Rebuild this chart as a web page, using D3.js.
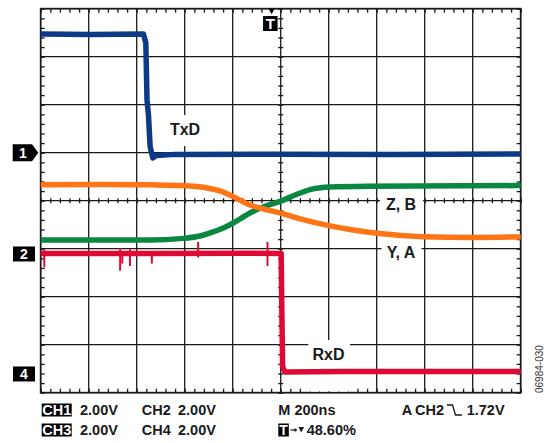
<!DOCTYPE html>
<html lang="en">

<head>
	<meta charset="UTF-8">
	<title>d3</title>
	<style type="text/css">
		body { margin: 0; background: #fff; }
		text { font-family: "Liberation Sans", Arial, sans-serif; }
	</style>
</head>

<body>
	<div id="chart"></div>

	<script src="https://d3js.org/d3.v7.min.js"></script>
	<script>
		// traces: [time in ns from trigger, volts]
		var txd = [
			[-962, 4.95], [-750, 4.93], [-534, 4.95], [-524, 4.57], [-519, 2.2],
			[-513, 1.57], [-506, 0.25], [-495, -0.22], [-481, -0.12], [-400, -0.07],
			[0, -0.06], [500, -0.07], [1038, -0.05]
		];
		var ya = [
			[-962, 2.88], [-715, 2.9], [-506, 2.88], [-369, 2.85], [-269, 2.75],
			[-215, 2.63], [-160, 2.39], [-90, 2.04], [-35, 1.88], [35, 1.71],
			[119, 1.46], [244, 1.17], [327, 1.02], [440, 0.86], [631, 0.72],
			[840, 0.69], [1038, 0.71]
		];
		var zb = [
			[-962, 0.58], [-506, 0.58], [-369, 0.65], [-298, 0.75], [-256, 0.88],
			[-206, 1.06], [-160, 1.29], [-90, 1.71], [-35, 1.96], [35, 2.19],
			[119, 2.54], [173, 2.71], [244, 2.79], [410, 2.82], [1038, 2.85]
		];
		var rxd = [
			[-962, 5.02], [-500, 5.02], [-100, 5.03], [40, 5.02],
			[43, 2.5], [46, 0.3], [56, 0.08], [300, 0.1], [1038, 0.1]
		];
		// glitches on RxD: [time, min volts, max volts]
		var rxdGlitches = [
			[-947, 4.45, 5.2], [-631, 4.3, 5.25], [-622, 4.6, 5.1], [-590, 4.5, 5.2],
			[-499, 4.6, 5.1], [-306, 4.85, 5.5], [-17, 4.5, 5.5]
		];

		var chOffset = { 1: 1.0, 2: -1.11, 3: -1.11, 4: -3.61 }; // ground, in divisions
		var voltsPerDiv = 2;
		var trigTime = 0;

		var width = 547, height = 443;
		var plot = { left: 40.7, top: 8.7, right: 520.7, bottom: 392.7 };
		var ink = '#1a1a1a';

		var gx = d3.scaleLinear().domain([0, 10]).range([plot.left, plot.right]);
		var gy = d3.scaleLinear().domain([-4, 4]).range([plot.bottom, plot.top]);
		var xScale = d3.scaleLinear().domain([-962, 1038]).range([plot.left, plot.right]);

		function yCh(ch) {
			return (v) => gy(chOffset[ch] + v / voltsPerDiv);
		}

		var svg = d3.select('#chart')
			.append('svg')
			.attr('width', width)
			.attr('height', height)
			.style('display', 'block');

		svg.append('rect').attr('width', width).attr('height', height).attr('fill', '#fff');

		// grid
		svg.append('g')
			.selectAll('line')
			.data(d3.range(1, 10))
			.join('line')
			.attr('x1', gx).attr('x2', gx)
			.attr('y1', plot.top).attr('y2', plot.bottom)
			.attr('stroke', ink).attr('stroke-width', 1.3);

		svg.append('g')
			.selectAll('line')
			.data(d3.range(-3, 4))
			.join('line')
			.attr('y1', gy).attr('y2', gy)
			.attr('x1', plot.left).attr('x2', plot.right)
			.attr('stroke', ink).attr('stroke-width', 1.3);

		// minor ticks
		var minorX = d3.range(0, 10.001, 0.2);
		var minorY = d3.range(-4, 4.001, 0.2);

		function ticks(g) {
			g.select('.domain').remove();
			g.selectAll('line').attr('stroke', ink).attr('stroke-width', 1.3);
		}

		svg.append('g').attr('transform', `translate(0, ${plot.top})`)
			.call(d3.axisBottom(gx).tickValues(minorX).tickSize(4).tickFormat('')).call(ticks);
		svg.append('g').attr('transform', `translate(0, ${plot.bottom})`)
			.call(d3.axisTop(gx).tickValues(minorX).tickSize(4).tickFormat('')).call(ticks);
		svg.append('g').attr('transform', `translate(${plot.left}, 0)`)
			.call(d3.axisRight(gy).tickValues(minorY).tickSize(4).tickFormat('')).call(ticks);
		svg.append('g').attr('transform', `translate(${plot.right}, 0)`)
			.call(d3.axisLeft(gy).tickValues(minorY).tickSize(4).tickFormat('')).call(ticks);
		// centre cross, ticks on both sides
		svg.append('g').attr('transform', `translate(0, ${gy(0) - 2.5})`)
			.call(d3.axisBottom(gx).tickValues(minorX).tickSize(5).tickFormat('')).call(ticks);
		svg.append('g').attr('transform', `translate(${gx(5) - 2.5}, 0)`)
			.call(d3.axisRight(gy).tickValues(minorY).tickSize(5).tickFormat('')).call(ticks);

		svg.append('rect')
			.attr('x', plot.left).attr('y', plot.top)
			.attr('width', plot.right - plot.left).attr('height', plot.bottom - plot.top)
			.attr('fill', 'none').attr('stroke', ink).attr('stroke-width', 1.8);

		// white patches behind the trace labels
		var patches = [[166, 115, 39, 31], [380, 196, 43, 17], [381.5, 243, 40, 18], [308.3, 340, 41.7, 51.5]];
		svg.append('g')
			.selectAll('rect')
			.data(patches)
			.join('rect')
			.attr('x', (d) => d[0]).attr('y', (d) => d[1])
			.attr('width', (d) => d[2]).attr('height', (d) => d[3])
			.attr('fill', '#fff');

		// traces
		var traces = [
			{ data: txd, ch: 1, color: '#0c3a86', curve: d3.curveLinear },
			{ data: zb, ch: 3, color: '#0a8740', curve: d3.curveMonotoneX },
			{ data: ya, ch: 2, color: '#ff7415', curve: d3.curveMonotoneX },
			{ data: rxd, ch: 4, color: '#dc0a34', curve: d3.curveLinear }
		];

		traces.forEach((t) => {
			var lineGen = d3.line()
				.x((d) => xScale(d[0]))
				.y((d) => yCh(t.ch)(d[1]))
				.curve(t.curve);
			svg.append('path')
				.datum(t.data)
				.attr('d', lineGen)
				.attr('fill', 'none')
				.attr('stroke', t.color)
				.attr('stroke-width', 5.5)
				.attr('stroke-linejoin', 'round');
		});

		svg.append('g')
			.selectAll('line')
			.data(rxdGlitches)
			.join('line')
			.attr('x1', (d) => xScale(d[0])).attr('x2', (d) => xScale(d[0]))
			.attr('y1', (d) => yCh(4)(d[1])).attr('y2', (d) => yCh(4)(d[2]))
			.attr('stroke', '#dc0a34').attr('stroke-width', 2);

		// trace labels
		var labels = [['TxD', 185, 135], ['Z, B', 401, 210], ['Y, A', 401, 258.3], ['RxD', 328.5, 360]];
		svg.append('g')
			.selectAll('text')
			.data(labels)
			.join('text')
			.attr('x', (d) => d[1]).attr('y', (d) => d[2])
			.attr('text-anchor', 'middle')
			.attr('font-size', 16).attr('font-weight', 'bold')
			.attr('fill', ink)
			.text((d) => d[0]);

		// channel ground markers
		var m1 = gy(chOffset[1]);
		svg.append('path')
			.attr('d', `M12.7,${m1 - 8.5}H32L38.3,${m1}L32,${m1 + 8.5}H12.7Z`)
			.attr('fill', '#000');
		[[1, '1'], [2, '2'], [4, '4']].forEach((c) => {
			var cy = gy(chOffset[c[0]]);
			if (c[0] !== 1) {
				svg.append('rect').attr('x', 13).attr('y', cy - 7.5)
					.attr('width', 22).attr('height', 15).attr('fill', '#000');
			}
			svg.append('text').attr('x', c[0] === 1 ? 23 : 24).attr('y', cy + 5)
				.attr('text-anchor', 'middle').attr('font-size', 14).attr('font-weight', 'bold')
				.attr('fill', '#fff').text(c[1]);
		});

		// trigger marker
		var tx = xScale(trigTime);
		svg.append('path')
			.attr('d', `M${tx - 3},${plot.top}H${tx + 3}L${tx},${plot.top + 5.5}Z`)
			.attr('fill', '#000');
		svg.append('rect').attr('x', tx - 8.5).attr('y', 16)
			.attr('width', 14.5).attr('height', 15).attr('fill', '#000');
		svg.append('text').attr('x', tx - 1.2).attr('y', 29)
			.attr('text-anchor', 'middle').attr('font-size', 15).attr('font-weight', 'bold')
			.attr('fill', '#fff').text('T');

		// settings readout
		var row1 = 415, row2 = 435;
		function inv(x, y, w, s) {
			svg.append('rect').attr('x', x).attr('y', y - 11.5).attr('width', w).attr('height', 13).attr('fill', '#000');
			svg.append('text').attr('x', x + 0.5).attr('y', y)
				.attr('font-size', 14.5).attr('font-weight', 'bold').attr('fill', '#fff').text(s);
		}
		function txt(x, y, s) {
			svg.append('text').attr('x', x).attr('y', y)
				.attr('font-size', 14.5).attr('font-weight', 'bold').attr('fill', ink).text(s);
		}
		inv(41.7, row1, 30, 'CH1');
		txt(80, row1, '2.00V');
		txt(141.7, row1, 'CH2');
		txt(178, row1, '2.00V');
		txt(278.3, row1, 'M 200ns');
		txt(401.7, row1, 'A');
		txt(415, row1, 'CH2');
		svg.append('path')
			.attr('d', `M447,${row1 - 10}H452.5L455.5,${row1}H462`)
			.attr('fill', 'none').attr('stroke', ink).attr('stroke-width', 1.3);
		txt(466.7, row1, '1.72V');

		inv(41.7, row2, 30, 'CH3');
		txt(80, row2, '2.00V');
		txt(141.7, row2, 'CH4');
		txt(178, row2, '2.00V');
		svg.append('rect').attr('x', 278.3).attr('y', row2 - 11.5).attr('width', 10.5).attr('height', 13).attr('fill', '#000');
		svg.append('text').attr('x', 283.5).attr('y', row2).attr('text-anchor', 'middle')
			.attr('font-size', 14).attr('font-weight', 'bold').attr('fill', '#fff').text('T');
		svg.append('path')
			.attr('d', `M290.5,${row2 - 5}H295`)
			.attr('stroke', ink).attr('stroke-width', 1.2);
		svg.append('path')
			.attr('d', `M294.5,${row2 - 7}L297.5,${row2 - 5}L294.5,${row2 - 3}Z`)
			.attr('fill', ink);
		svg.append('path')
			.attr('d', `M298.5,${row2 - 8}H304L301.2,${row2 - 2.5}Z`)
			.attr('fill', ink);
		txt(306.7, row2, '48.60%');

		// figure number
		svg.append('text')
			.attr('transform', 'translate(543, 393) rotate(-90)')
			.attr('font-size', 10).attr('fill', '#333')
			.text('06984-030');
	</script>
</body>

</html>
